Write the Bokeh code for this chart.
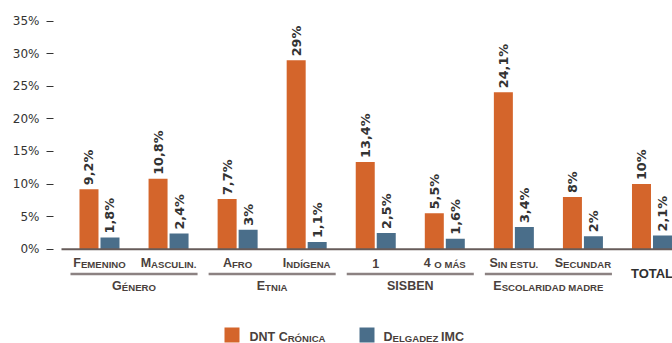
import math
from bokeh.plotting import figure
from bokeh.models import ColumnDataSource, Range1d, FixedTicker
from bokeh.core.properties import value
from bokeh.embed import file_html
from bokeh.resources import INLINE

# --- data -------------------------------------------------------------
categories = ["Femenino", "Masculin.", "Afro", "Indígena", "1", "4 o más",
              "Sin estu.", "Secundar", "TOTAL"]
groups = ["Género", "Etnia", "SISBEN", "Escolaridad madre"]
group_members = [[0, 1], [2, 3], [4, 5], [6, 7]]
dnt_cronica = [9.2, 10.8, 7.7, 29, 13.4, 5.5, 24.1, 8, 10]
delgadez_imc = [1.8, 2.4, 3, 1.1, 2.5, 1.6, 3.4, 2, 2.1]
series_names = ["DNT Crónica", "Delgadez IMC"]
ytick_values = [0, 5, 10, 15, 20, 25, 30, 35]
ytick_labels = ["0%", "5%", "10%", "15%", "20%", "25%", "30%", "35%"]

# --- style ------------------------------------------------------------
ORANGE = "#D4652B"
BLUE = "#4A6E8A"
TEXT = "#4a3f3c"
LABEL_FONT = "Liberation Sans"
BIG, SMALL = 12.5, 9.6
# the svg text renderer puts the alphabetic baseline ~0.355 em below the anchor
BASELINE_FIX = 0.355

# pixel scale of the frame: one group per ~69 px, one percent per ~6.5 px
PX_X = 69.06
PX_Y = 6.514
X0, X1 = -0.666, 8.297
Y0, Y1 = -14.476, 38.178

BAR_W = 19 / PX_X
BAR_OFF = 10.5 / PX_X

# Liberation Sans Bold advance widths (per 1000 em) for label layout
ADV = {" ": 278, ".": 278, "A": 722, "B": 722, "C": 722, "D": 722, "E": 667,
       "F": 611, "G": 778, "H": 722, "I": 278, "J": 556, "K": 722, "L": 611,
       "M": 833, "N": 722, "O": 778, "P": 667, "Q": 778, "R": 722, "S": 667,
       "T": 611, "U": 722, "V": 667, "W": 944, "X": 667, "Y": 667, "Z": 611,
       "É": 667, "Í": 278, "Ó": 778, "Á": 722}


def text_width(s, size):
    return sum(ADV.get(c, 556) for c in s) / 1000 * size


def small_caps_runs(label):
    """Split a label into (text, size) runs imitating small capitals."""
    runs = []
    for c in label:
        if c.isupper() or c.isdigit():
            big = True
        elif c.islower():
            big = False
        else:
            big = runs[-1][1] == BIG if runs else True
        size = BIG if big else SMALL
        ch = c.upper()
        if runs and runs[-1][1] == size:
            runs[-1][0] += ch
        else:
            runs.append([ch, size])
    return runs


def add_small_caps(store, label, x, y, align="center"):
    runs = small_caps_runs(label)
    total = sum(text_width(t, s) for t, s in runs)
    off = -total / 2 if align == "center" else 0.0
    for t, s in runs:
        d = store[s]
        d["x"].append(x)
        d["y"].append(y)
        d["text"].append(t)
        d["xo"].append(off)
        off += text_width(t, s)


def fmt_pct(v):
    if float(v).is_integer():
        return f"{int(v)}%"
    return f"{v:.1f}".replace(".", ",") + "%"


p = figure(width=672, height=343, x_range=Range1d(X0, X1), y_range=Range1d(Y0, Y1),
           output_backend="svg", toolbar_location=None, x_axis_location=None,
           min_border_left=53, min_border_right=0, min_border_top=0, min_border_bottom=0)
p.grid.visible = False
p.outline_line_color = None
p.background_fill_color = "white"
p.border_fill_color = "white"

# y axis: short dashes, no axis line
ax = p.yaxis[0]
ax.ticker = FixedTicker(ticks=ytick_values)
ax.major_label_overrides = {v: l for v, l in zip(ytick_values, ytick_labels)}
ax.axis_line_color = None
ax.minor_tick_line_color = None
ax.major_tick_in = 0
ax.major_tick_out = 7
ax.major_tick_line_color = "#333333"
ax.major_tick_line_width = 1
ax.major_label_standoff = 7
ax.major_label_text_font = "DejaVu Sans"
ax.major_label_text_font_size = "12px"
ax.major_label_text_color = "#333333"

# bars
idx = list(range(len(categories)))
src = ColumnDataSource(dict(
    x_a=[i - BAR_OFF for i in idx], x_b=[i + BAR_OFF for i in idx],
    a=dnt_cronica, b=delgadez_imc,
    la=[fmt_pct(v) for v in dnt_cronica], lb=[fmt_pct(v) for v in delgadez_imc]))
p.vbar(x="x_a", top="a", bottom=0, width=BAR_W, source=src, fill_color=ORANGE, line_color=None)
p.vbar(x="x_b", top="b", bottom=0, width=BAR_W, source=src, fill_color=BLUE, line_color=None)

# baseline
p.segment(x0=[-38 / PX_X], x1=[X1], y0=[0], y1=[0], line_color="#675c5a", line_width=2)

# vertical value labels
for xcol, ycol, lcol in (("x_a", "a", "la"), ("x_b", "b", "lb")):
    p.text(x=xcol, y=ycol, text=lcol, source=src, angle=math.pi / 2,
           text_align="left", text_baseline="middle", y_offset=-4,
           text_font=value("DejaVu Sans"), text_font_size="12.8px",
           text_font_style="bold", text_color="#333333")

# category and group labels (baselines in px below the zero line)
Y_CAT = -18.3 / PX_Y
Y_LINE = -24.8 / PX_Y
Y_GROUP = -41.3 / PX_Y
Y_TOTAL = -29.3 / PX_Y

store = {BIG: dict(x=[], y=[], text=[], xo=[]), SMALL: dict(x=[], y=[], text=[], xo=[])}
for i, c in enumerate(categories[:-1]):
    add_small_caps(store, c, i, Y_CAT)
for g, members in zip(groups, group_members):
    add_small_caps(store, g, sum(members) / len(members), Y_GROUP)

# legend
LEG_Y = -92.3 / PX_Y
LEG_SQ_Y = -85.8 / PX_Y
leg_sq_x = [132.5 / PX_X, 267.5 / PX_X]
leg_txt_x = [150 / PX_X, 284 / PX_X]
for name, tx in zip(series_names, leg_txt_x):
    add_small_caps(store, name, tx, LEG_Y, align="left")
p.rect(x=leg_sq_x, y=[LEG_SQ_Y] * 2, width=15 / PX_X, height=15 / PX_Y,
       fill_color=[ORANGE, BLUE], line_color=None)

for size, d in store.items():
    p.text(x="x", y="y", text="text", x_offset="xo", source=ColumnDataSource(d),
           text_align="left", text_baseline="alphabetic", y_offset=-BASELINE_FIX * size,
           text_font=value(LABEL_FONT), text_font_size=f"{size}px",
           text_font_style="bold", text_color=TEXT)

p.text(x=[len(categories) - 1], y=[Y_TOTAL], text=[categories[-1]],
       text_align="center", text_baseline="alphabetic", y_offset=-BASELINE_FIX * 13,
       text_font=value(LABEL_FONT), text_font_size="13px", text_font_style="bold",
       text_color="#2f2f2f")

# grey rules under each group of categories
p.segment(x0=[m[0] - 0.42 for m in group_members], x1=[m[-1] + 0.42 for m in group_members],
          y0=[Y_LINE] * 4, y1=[Y_LINE] * 4, line_color="#8c8282", line_width=2.5)

open("out.html", "w").write(file_html(p, INLINE))
